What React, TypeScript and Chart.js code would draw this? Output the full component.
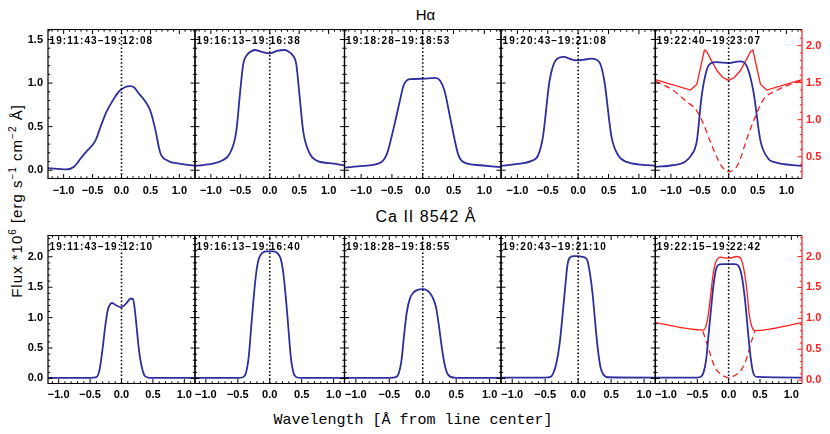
import React, { useEffect, useRef } from 'react';
import { Chart, registerables } from 'chart.js';
Chart.register(...registerables);

const BLUE = '#2e2e9e';
const RED = '#ff1e1e';
const FONT_FAMILY = '"Liberation Sans", Arial, sans-serif';

// ---------- tick labels ----------
const X_TICKS = [-1, -0.5, 0, 0.5, 1];
const HA_Y_TICKS = [0, 0.5, 1, 1.5];
const HA_Y2_TICKS = [0.5, 1, 1.5, 2];
const CA_Y_TICKS = [0, 0.5, 1, 1.5, 2];
const CA_Y2_TICKS = [0, 0.5, 1, 1.5, 2];

// ---------- axis ranges ----------
const HA_X_RANGE = [-1.27, 1.27];
const HA_Y_RANGE = [-0.095, 1.615];
const HA_Y2_RANGE = [0.207, 2.217];
const CA_X_RANGE = [-1.17, 1.17];
const CA_Y_RANGE = [-0.083, 2.35];
const CA_Y2_RANGE = [-0.054, 2.34];

// ---------- panel labels ----------
const HA_LABELS = ['19:11:43\u201319:12:08', '19:16:13\u201319:16:38', '19:18:28\u201319:18:53', '19:20:43\u201319:21:08', '19:22:40\u201319:23:07'];
const CA_LABELS = ['19:11:43\u201319:12:10', '19:16:13\u201319:16:40', '19:18:28\u201319:18:55', '19:20:43\u201319:21:10', '19:22:15\u201319:22:42'];

// ---------- H-alpha profiles ----------
const haX1 = [-1.27, -0.95, -0.82, -0.7, -0.6, -0.45, -0.35, -0.26, -0.15, -0.05, 0.05, 0.15, 0.22, 0.3, 0.4, 0.5, 0.58, 0.67, 0.8, 1.0, 1.27];
const haY1 = [0.025, 0.01, 0.04, 0.14, 0.22, 0.34, 0.52, 0.67, 0.8, 0.9, 0.95, 0.965, 0.95, 0.88, 0.8, 0.68, 0.48, 0.2, 0.11, 0.075, 0.05];
const haX2 = [-1.27, -0.97, -0.8, -0.68, -0.57, -0.5, -0.45, -0.39, -0.3, -0.25, -0.15, 0.0, 0.12, 0.26, 0.32, 0.39, 0.45, 0.5, 0.57, 0.68, 0.8, 1.09, 1.27];
const haY2 = [0.05, 0.075, 0.115, 0.19, 0.44, 0.92, 1.22, 1.32, 1.37, 1.38, 1.36, 1.34, 1.37, 1.38, 1.36, 1.32, 1.22, 0.9, 0.44, 0.19, 0.11, 0.075, 0.055];
const haX3 = [-1.27, -0.97, -0.67, -0.58, -0.48, -0.37, -0.31, -0.21, 0.0, 0.2, 0.28, 0.35, 0.46, 0.58, 0.67, 0.94, 1.27];
const haY3 = [0.03, 0.05, 0.095, 0.19, 0.46, 0.8, 0.975, 1.045, 1.05, 1.06, 1.03, 0.92, 0.55, 0.17, 0.09, 0.057, 0.035];
const haX4 = [-1.27, -1.02, -0.77, -0.66, -0.58, -0.47, -0.36, -0.24, -0.1, 0.0, 0.1, 0.22, 0.35, 0.43, 0.55, 0.66, 0.8, 1.27];
const haY4 = [0.05, 0.07, 0.107, 0.17, 0.38, 1.03, 1.27, 1.3, 1.27, 1.26, 1.27, 1.28, 1.24, 1.03, 0.38, 0.17, 0.095, 0.05];
const haX5 = [-1.27, -0.97, -0.76, -0.65, -0.55, -0.47, -0.38, -0.3, -0.21, 0.0, 0.2, 0.31, 0.43, 0.55, 0.69, 0.78, 1.27];
const haY5 = [0.038, 0.057, 0.095, 0.17, 0.34, 0.84, 1.15, 1.23, 1.24, 1.23, 1.25, 1.2, 0.9, 0.34, 0.13, 0.095, 0.05];
const haRedX = [-1.27, -0.66, -0.55, -0.42, -0.38, -0.3, -0.2, -0.1, 0.0, 0.1, 0.2, 0.3, 0.38, 0.42, 0.55, 0.66, 1.27];
const haRedSolid = [1.54, 1.4, 1.48, 1.94, 1.92, 1.8, 1.66, 1.57, 1.53, 1.57, 1.66, 1.8, 1.92, 1.94, 1.48, 1.4, 1.54];
const haRedDashX = [-1.27, -0.97, -0.73, -0.56, -0.44, -0.33, -0.18, -0.065, 0.02, 0.17, 0.31, 0.46, 0.6, 0.84, 1.27];
const haRedDash = [1.52, 1.4, 1.245, 1.13, 0.95, 0.73, 0.455, 0.32, 0.3, 0.41, 0.73, 1.04, 1.27, 1.4, 1.53];

// ---------- Ca II 8542 profiles ----------
const caX1 = [-1.17, -0.5, -0.4, -0.35, -0.3, -0.26, -0.22, -0.18, -0.15, -0.08, 0.0, 0.08, 0.14, 0.18, 0.21, 0.24, 0.28, 0.32, 0.36, 0.42, 0.5, 1.17];
const caY1 = [0.01, 0.01, 0.02, 0.14, 0.5, 0.85, 1.12, 1.22, 1.24, 1.2, 1.17, 1.24, 1.31, 1.31, 1.15, 0.85, 0.45, 0.2, 0.06, 0.015, 0.01, 0.01];
const caX2 = [-1.17, -0.5, -0.42, -0.37, -0.33, -0.29, -0.25, -0.21, -0.17, -0.12, -0.06, 0.0, 0.06, 0.12, 0.17, 0.21, 0.25, 0.29, 0.33, 0.37, 0.42, 0.5, 1.17];
const caY2 = [0.01, 0.01, 0.02, 0.1, 0.35, 0.85, 1.35, 1.75, 1.97, 2.06, 2.09, 2.09, 2.09, 2.06, 1.97, 1.75, 1.35, 0.85, 0.35, 0.1, 0.02, 0.01, 0.01];
const caX3 = [-1.17, -0.5, -0.4, -0.36, -0.32, -0.28, -0.24, -0.19, -0.14, -0.08, 0.0, 0.06, 0.11, 0.16, 0.2, 0.24, 0.28, 0.32, 0.36, 0.41, 0.5, 1.17];
const caY3 = [0.01, 0.01, 0.02, 0.08, 0.28, 0.7, 1.08, 1.32, 1.41, 1.455, 1.47, 1.45, 1.4, 1.3, 1.16, 0.88, 0.55, 0.27, 0.1, 0.03, 0.01, 0.01];
const caX4 = [-1.17, -0.5, -0.42, -0.38, -0.33, -0.28, -0.24, -0.2, -0.16, -0.12, -0.06, 0.0, 0.06, 0.1, 0.14, 0.18, 0.22, 0.26, 0.3, 0.34, 0.38, 0.45, 1.17];
const caY4 = [0.015, 0.015, 0.025, 0.08, 0.25, 0.58, 1.0, 1.46, 1.88, 1.99, 2.01, 2.01, 2.0, 1.99, 1.94, 1.72, 1.38, 0.9, 0.47, 0.18, 0.07, 0.02, 0.015];
const caX5 = [-1.17, -0.5, -0.44, -0.4, -0.36, -0.32, -0.28, -0.24, -0.2, -0.16, -0.1, 0.0, 0.1, 0.15, 0.19, 0.23, 0.27, 0.31, 0.35, 0.39, 0.45, 1.17];
const caY5 = [0.015, 0.015, 0.03, 0.1, 0.3, 0.72, 1.15, 1.55, 1.8, 1.87, 1.88, 1.88, 1.88, 1.86, 1.77, 1.55, 1.2, 0.75, 0.35, 0.1, 0.025, 0.015];
const caRedX = [-1.17, -0.41, -0.37, -0.33, -0.29, -0.25, -0.21, -0.17, -0.12, -0.05, 0.0, 0.05, 0.12, 0.17, 0.21, 0.25, 0.29, 0.33, 0.37, 0.42, 1.17];
const caRedSolid = [0.93, 0.81, 0.85, 1.02, 1.35, 1.7, 1.9, 1.97, 1.99, 1.975, 1.975, 1.98, 2.0, 1.99, 1.93, 1.75, 1.46, 1.05, 0.865, 0.8, 0.93];
const caRedDashX = [-0.41, -0.37, -0.33, -0.29, -0.245, -0.19, -0.14, -0.07, 0.0, 0.07, 0.15, 0.21, 0.26, 0.3, 0.34, 0.38, 0.42];
const caRedDash = [0.79, 0.66, 0.54, 0.41, 0.27, 0.16, 0.11, 0.06, 0.04, 0.06, 0.11, 0.18, 0.27, 0.4, 0.54, 0.68, 0.79];

// ---------- layout (page px) ----------
const COL_EDGES = [48, 195, 344.5, 501, 655.3, 802];
const TOP_ROW = [29.5, 178.5];
const BOT_ROW = [235.5, 383.5];

const fmt = (v: number) => (v < 0 ? '\u2212' + Math.abs(v).toFixed(1) : v.toFixed(1));
const pts = (xs: number[], ys: number[]) => xs.map((x, i) => ({ x, y: ys[i] }));

type Series = { xs: number[]; ys: number[]; color: string; width: number; dash?: number[]; axis?: string; smooth?: boolean };

type PanelProps = {
  x0: number; x1: number; y0: number; y1: number;
  xr: number[]; yr: number[]; y2r?: number[];
  yTicks: number[]; y2Ticks?: number[];
  showLeft: boolean; label: string; series: Series[]; xPad: number;
};

function Panel(p: PanelProps) {
  const ref = useRef<HTMLCanvasElement>(null);
  const mL = p.showLeft ? p.x0 : 20;
  const mR = p.y2r ? 34 : 20;
  const cl = Math.floor(p.x0 - mL);
  const ct = Math.floor(p.y0 - 15);
  const cw = Math.ceil(p.x1 + mR) - cl;
  const ch = Math.ceil(p.y1 + 28) - ct;

  useEffect(() => {
    const YW = 40, Y2W = 30, XH = 24;
    const zeroPad = (s: any) => { s.paddingLeft = 0; s.paddingRight = 0; s.paddingTop = 0; s.paddingBottom = 0; };
    const tickFont = { family: FONT_FAMILY, size: 11, weight: 'bold' as const };

    const framePlugin = {
      id: 'frame',
      afterDatasetsDraw(chart: any) {
        const { ctx, chartArea: a, scales } = chart;
        const sx = scales.x, sy = scales.y, sy2 = scales.y2;
        ctx.save();
        ctx.lineWidth = 1;
        const MAJ = 4.5, MIN = 2.2;
        ctx.strokeStyle = '#000';
        ctx.beginPath();
        for (let k = Math.ceil(p.xr[0] * 10); k <= Math.floor(p.xr[1] * 10); k++) {
          const px = sx.getPixelForValue(k / 10);
          const len = k % 5 === 0 ? MAJ : MIN;
          ctx.moveTo(px, a.top); ctx.lineTo(px, a.top + len);
          ctx.moveTo(px, a.bottom); ctx.lineTo(px, a.bottom - len);
        }
        for (let k = Math.ceil(p.yr[0] * 10); k <= Math.floor(p.yr[1] * 10); k++) {
          const py = sy.getPixelForValue(k / 10);
          const len = k % 5 === 0 ? MAJ : MIN;
          ctx.moveTo(a.left, py); ctx.lineTo(a.left + len, py);
          if (!sy2) { ctx.moveTo(a.right, py); ctx.lineTo(a.right - len, py); }
        }
        ctx.stroke();
        ctx.lineWidth = 1.2;
        ctx.beginPath();
        ctx.moveTo(a.right, a.top); ctx.lineTo(a.left, a.top); ctx.lineTo(a.left, a.bottom); ctx.lineTo(a.right, a.bottom);
        if (!sy2) ctx.lineTo(a.right, a.top);
        ctx.stroke();
        if (sy2 && p.y2r) {
          ctx.strokeStyle = RED;
          ctx.lineWidth = 1;
          ctx.beginPath();
          for (let k = Math.ceil(p.y2r[0] * 10); k <= Math.floor(p.y2r[1] * 10); k++) {
            const py = sy2.getPixelForValue(k / 10);
            const len = k % 5 === 0 ? MAJ : MIN;
            ctx.moveTo(a.right, py); ctx.lineTo(a.right - len, py);
          }
          ctx.stroke();
          ctx.lineWidth = 1.2;
          ctx.beginPath();
          ctx.moveTo(a.right, a.top); ctx.lineTo(a.right, a.bottom);
          ctx.stroke();
        }
        ctx.fillStyle = '#000';
        ctx.font = 'bold 10px ' + FONT_FAMILY;
        try { (ctx as any).letterSpacing = '1.1px'; } catch (e) { /* ignore */ }
        ctx.textBaseline = 'alphabetic';
        ctx.textAlign = 'left';
        ctx.fillText(p.label, a.left + 1.5, a.top + 14);
        ctx.restore();
      },
    };

    const datasets: any[] = [
      {
        data: [{ x: 0, y: p.yr[0] }, { x: 0, y: p.yr[1] }],
        borderColor: '#000', borderWidth: 1.6, borderDash: [1.5, 2.2], pointRadius: 0, yAxisID: 'y',
      },
      ...p.series.map((s) => ({
        data: pts(s.xs, s.ys),
        borderColor: s.color,
        borderWidth: s.width,
        borderDash: s.dash || [],
        pointRadius: 0,
        yAxisID: s.axis || 'y',
        cubicInterpolationMode: s.smooth ? 'monotone' : 'default',
        tension: 0,
      })),
    ];

    const scales: any = {
      x: {
        type: 'linear', position: 'bottom', min: p.xr[0], max: p.xr[1],
        grid: { display: false, drawTicks: false }, border: { display: false },
        ticks: { font: tickFont, color: '#000', padding: p.xPad, autoSkip: false, maxRotation: 0, callback: (v: any) => fmt(Number(v)) },
        afterBuildTicks: (s: any) => { s.ticks = X_TICKS.map((v) => ({ value: v })); },
        afterFit: (s: any) => { s.height = XH; zeroPad(s); },
      },
      y: {
        type: 'linear', position: 'left', min: p.yr[0], max: p.yr[1], display: p.showLeft,
        grid: { display: false, drawTicks: false }, border: { display: false },
        ticks: { font: tickFont, color: '#000', padding: 5, autoSkip: false, callback: (v: any) => fmt(Number(v)) },
        afterBuildTicks: (s: any) => { s.ticks = p.yTicks.map((v) => ({ value: v })); },
        afterFit: (s: any) => { if (p.showLeft) s.width = YW; zeroPad(s); },
      },
    };
    if (p.y2r && p.y2Ticks) {
      const t2 = p.y2Ticks;
      scales.y2 = {
        type: 'linear', position: 'right', min: p.y2r[0], max: p.y2r[1],
        grid: { display: false, drawTicks: false }, border: { display: false },
        ticks: { font: tickFont, color: RED, padding: 4, autoSkip: false, callback: (v: any) => fmt(Number(v)) },
        afterBuildTicks: (s: any) => { s.ticks = t2.map((v) => ({ value: v })); },
        afterFit: (s: any) => { s.width = Y2W; zeroPad(s); },
      };
    }

    const chart = new Chart(ref.current as HTMLCanvasElement, {
      type: 'line',
      data: { datasets },
      options: {
        responsive: false,
        maintainAspectRatio: false,
        animation: false,
        layout: {
          autoPadding: false,
          padding: {
            left: p.x0 - cl - (p.showLeft ? YW : 0),
            right: cl + cw - p.x1 - (p.y2r ? Y2W : 0),
            top: p.y0 - ct,
            bottom: ct + ch - p.y1 - XH,
          },
        },
        plugins: { legend: { display: false }, tooltip: { enabled: false } },
        scales,
      } as any,
      plugins: [framePlugin],
    });
    return () => chart.destroy();
  }, []);

  return (
    <canvas
      ref={ref}
      width={cw}
      height={ch}
      style={{ position: 'absolute', left: cl, top: ct, width: cw, height: ch }}
    />
  );
}

const haSeries: Series[][] = [
  [{ xs: haX1, ys: haY1, color: BLUE, width: 1.8, smooth: true }],
  [{ xs: haX2, ys: haY2, color: BLUE, width: 1.8, smooth: true }],
  [{ xs: haX3, ys: haY3, color: BLUE, width: 1.8, smooth: true }],
  [{ xs: haX4, ys: haY4, color: BLUE, width: 1.8, smooth: true }],
  [
    { xs: haX5, ys: haY5, color: BLUE, width: 1.8, smooth: true },
    { xs: haRedX, ys: haRedSolid, color: RED, width: 1.3, axis: 'y2' },
    { xs: haRedDashX, ys: haRedDash, color: RED, width: 1.3, axis: 'y2', dash: [6, 4], smooth: true },
  ],
];

const caSeries: Series[][] = [
  [{ xs: caX1, ys: caY1, color: BLUE, width: 1.8, smooth: true }],
  [{ xs: caX2, ys: caY2, color: BLUE, width: 1.8, smooth: true }],
  [{ xs: caX3, ys: caY3, color: BLUE, width: 1.8, smooth: true }],
  [{ xs: caX4, ys: caY4, color: BLUE, width: 1.8, smooth: true }],
  [
    { xs: caX5, ys: caY5, color: BLUE, width: 1.8, smooth: true },
    { xs: caRedX, ys: caRedSolid, color: RED, width: 1.3, axis: 'y2', smooth: true },
    { xs: caRedDashX, ys: caRedDash, color: RED, width: 1.3, axis: 'y2', dash: [6, 4], smooth: true },
  ],
];

const supStyle: React.CSSProperties = { fontSize: '10px', position: 'relative', top: '-6px' };

export default function App() {
  const panels: any[] = [];
  for (let i = 0; i < 5; i++) {
    panels.push(
      <Panel
        key={'ha' + i}
        x0={COL_EDGES[i]} x1={COL_EDGES[i + 1]} y0={TOP_ROW[0]} y1={TOP_ROW[1]}
        xr={HA_X_RANGE} yr={HA_Y_RANGE}
        y2r={i === 4 ? HA_Y2_RANGE : undefined}
        yTicks={HA_Y_TICKS} y2Ticks={i === 4 ? HA_Y2_TICKS : undefined}
        showLeft={i === 0} label={HA_LABELS[i]} series={haSeries[i]} xPad={6}
      />
    );
    panels.push(
      <Panel
        key={'ca' + i}
        x0={COL_EDGES[i]} x1={COL_EDGES[i + 1]} y0={BOT_ROW[0]} y1={BOT_ROW[1]}
        xr={CA_X_RANGE} yr={CA_Y_RANGE}
        y2r={i === 4 ? CA_Y2_RANGE : undefined}
        yTicks={CA_Y_TICKS} y2Ticks={i === 4 ? CA_Y2_TICKS : undefined}
        showLeft={i === 0} label={CA_LABELS[i]} series={caSeries[i]} xPad={5}
      />
    );
  }
  return (
    <div style={{ position: 'absolute', left: 0, top: 0, width: 830, height: 434, background: '#fff', overflow: 'hidden' }}>
      <div style={{ position: 'absolute', left: 425.5, top: 7.3, transform: 'translateX(-50%)', font: '15px ' + FONT_FAMILY, lineHeight: '15px', whiteSpace: 'nowrap', color: '#000' }}>
        H&alpha;
      </div>
      <div style={{ position: 'absolute', left: 426, top: 208.5, transform: 'translateX(-50%)', font: '16px ' + FONT_FAMILY, lineHeight: '16px', letterSpacing: '1px', whiteSpace: 'nowrap', color: '#000' }}>
        Ca II 8542 Å
      </div>
      <div style={{ position: 'absolute', left: 413, top: 413.3, transform: 'translateX(-50%)', font: '15px "Liberation Mono", "Courier New", monospace', lineHeight: '15px', whiteSpace: 'nowrap', color: '#000' }}>
        Wavelength [Å from line center]
      </div>
      <div style={{ position: 'absolute', left: 17, top: 201, transform: 'translate(-50%, -50%) rotate(-90deg)', font: '15px ' + FONT_FAMILY, lineHeight: '15px', letterSpacing: '1px', whiteSpace: 'nowrap', color: '#000' }}>
        Flux *10<span style={supStyle}>6</span> [erg s<span style={supStyle}>−1</span> cm<span style={supStyle}>−2</span> Å]
      </div>
      {panels}
    </div>
  );
}
